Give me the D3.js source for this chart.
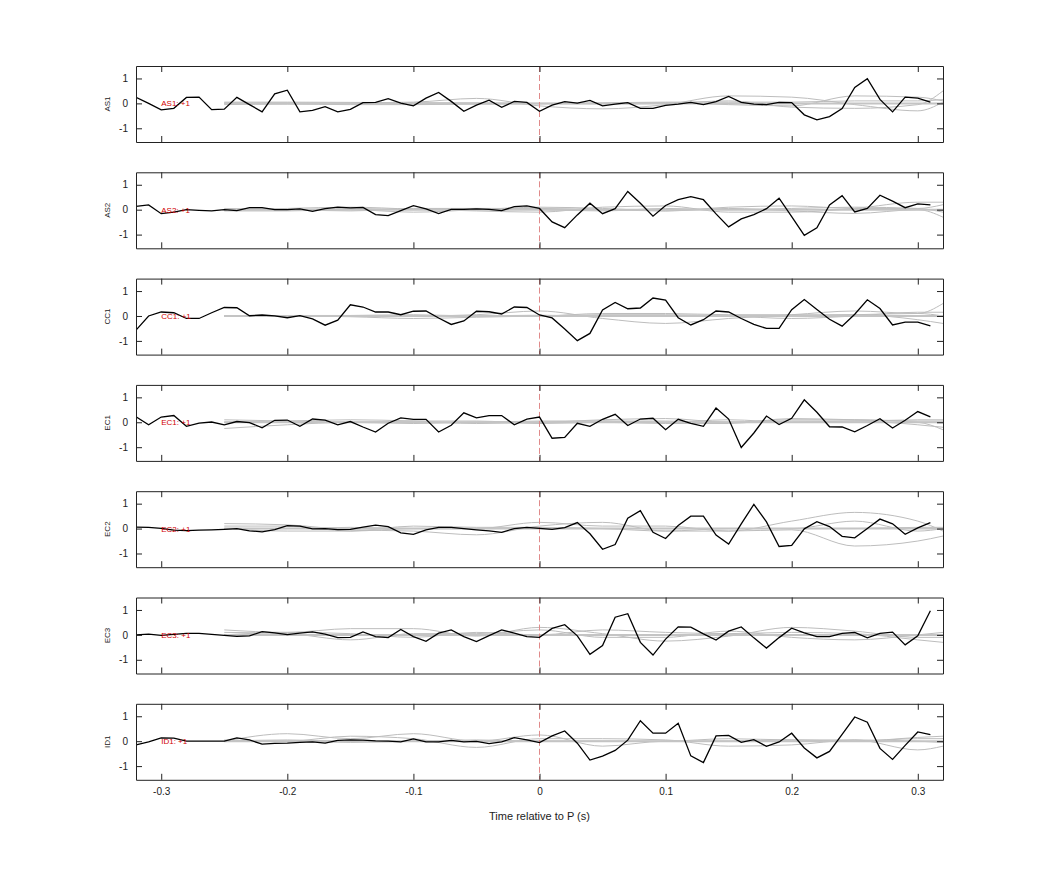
<!DOCTYPE html>
<html>
<head>
<meta charset="utf-8">
<script src="https://cdn.jsdelivr.net/npm/d3@7"></script>
<style>
  body { margin: 0; background: #fff; }
  text { font-family: "Liberation Sans", Arial, sans-serif; }
</style>
</head>
<body>
<div id="chart"></div>
<script>
// channel names, one panel each
var stations = ["AS1", "AS2", "CC1", "EC1", "EC2", "EC3", "ID1"];
var xTicks = [-0.3, -0.2, -0.1, 0, 0.1, 0.2, 0.3];
var yTicks = [-1, 0, 1];

// black traces, sampled every 0.01 s from -0.32 to 0.31
var tStart = -0.32, tStep = 0.01;
var traceAS1 = [0.24,0,-0.26,-0.2,0.24,0.25,-0.25,-0.23,0.24,-0.05,-0.34,0.38,0.53,-0.34,-0.28,-0.13,-0.34,-0.24,0.03,0.04,0.19,0.01,-0.1,0.21,0.44,0.08,-0.32,-0.07,0.13,-0.16,0.08,0.04,-0.32,-0.07,0.07,0.01,0.12,-0.1,-0.03,0.03,-0.2,-0.2,-0.08,-0.03,0.04,-0.05,0.07,0.28,0.04,-0.03,-0.05,0.04,0.03,-0.46,-0.66,-0.53,-0.21,0.64,0.99,0.16,-0.34,0.25,0.21,0.05];
var traceAS2 = [0.13,0.19,-0.16,-0.1,0,-0.03,-0.05,0,-0.04,0.08,0.08,0,0,0.03,-0.07,0.04,0.1,0.07,0.09,-0.2,-0.24,-0.04,0.16,0.03,-0.16,0.01,0.01,0.03,0.01,-0.04,0.12,0.15,0.05,-0.49,-0.72,-0.21,0.26,-0.16,0.04,0.73,0.26,-0.26,0.17,0.4,0.52,0.4,-0.17,-0.69,-0.37,-0.2,0.04,0.46,-0.28,-1.03,-0.73,0.19,0.56,-0.09,0.05,0.58,0.34,0.08,0.23,0.19];
var traceCC1 = [-0.57,0,0.16,0.13,-0.1,-0.1,0.13,0.34,0.33,0.01,0.04,0,-0.07,0.01,-0.12,-0.37,-0.17,0.45,0.36,0.16,0.16,0.05,0.19,0.2,-0.08,-0.34,-0.2,0.19,0.17,0.08,0.36,0.34,0.04,-0.08,-0.52,-0.99,-0.7,0.24,0.54,0.29,0.32,0.72,0.64,-0.07,-0.36,-0.15,0.2,0.16,-0.1,-0.34,-0.5,-0.5,0.25,0.66,0.26,-0.13,-0.41,0.07,0.65,0.3,-0.36,-0.25,-0.25,-0.4];
var traceEC1 = [0.22,-0.1,0.21,0.27,-0.16,-0.03,0.01,-0.1,0.03,-0.01,-0.22,0.08,0.09,-0.16,0.13,0.09,-0.1,0.03,-0.19,-0.39,-0.04,0.18,0.12,0.12,-0.39,-0.12,0.38,0.18,0.27,0.27,-0.1,0.13,0.21,-0.64,-0.61,-0.04,-0.16,0.12,0.32,-0.13,0.13,0.16,-0.3,0.12,-0.04,-0.16,0.57,0.13,-1.01,-0.43,0.25,-0.09,0.16,0.9,0.4,-0.18,-0.19,-0.38,-0.13,0.14,-0.23,0.08,0.43,0.22];
var traceEC2 = [0.06,0.05,0.01,-0.06,-0.08,-0.06,-0.05,-0.03,0,-0.09,-0.13,-0.04,0.12,0.1,-0.01,0,-0.04,-0.03,0.06,0.14,0.08,-0.17,-0.23,-0.05,0.05,0.05,0,-0.05,-0.09,-0.15,0,0.05,0.01,-0.03,0.04,0.24,-0.21,-0.83,-0.64,0.42,0.72,-0.15,-0.4,0.12,0.5,0.5,-0.26,-0.62,0.19,0.97,0.27,-0.72,-0.67,-0.01,0.28,0.08,-0.31,-0.37,0,0.38,0.19,-0.23,0.03,0.24];
var traceEC3 = [0,0.03,-0.02,0.02,0.06,0.06,0.02,-0.02,-0.06,-0.04,0.13,0.08,0.01,0.07,0.12,0.03,-0.11,-0.1,0.12,-0.07,-0.11,0.22,-0.07,-0.26,0.07,0.2,-0.07,-0.27,-0.03,0.2,0.07,-0.07,-0.1,0.26,0.41,-0.04,-0.78,-0.43,0.71,0.85,-0.3,-0.81,-0.17,0.32,0.31,0.04,-0.21,0.15,0.32,-0.12,-0.53,-0.11,0.27,0.08,-0.07,-0.07,0.06,0.1,-0.12,0.06,0.11,-0.4,-0.04,0.97];
var traceID1 = [-0.15,-0.03,0.13,0.12,0,0,0,0,0.13,0.05,-0.12,-0.09,-0.08,-0.05,-0.03,-0.08,0.03,0.05,0.04,0.01,0,-0.03,0.09,-0.03,-0.03,0.03,-0.03,-0.01,-0.1,-0.03,0.14,0.05,-0.06,0.21,0.41,-0.08,-0.76,-0.6,-0.37,0.04,0.82,0.32,0.32,0.72,-0.59,-0.86,0.21,0.23,-0.05,0.06,-0.21,-0.03,0.32,-0.27,-0.67,-0.41,0.27,0.97,0.76,-0.29,-0.73,-0.17,0.37,0.26];

// grey reference traces, read at coarser times
var greyT = [-0.25,-0.2,-0.15,-0.1,-0.05,0,0.05,0.1,0.15,0.2,0.25,0.3,0.32];
var greyAS1 = [
  [0.02,0.0,0.02,0.05,0.2,-0.1,-0.22,-0.05,0.3,0.25,-0.05,-0.3,0.05],
  [0.05,0.05,0.04,0.03,0.02,0,0.02,0.05,0.05,0.05,0.1,0.1,0.15],
  [-0.05,-0.03,-0.05,-0.05,-0.03,-0.02,0,0.03,-0.05,-0.1,0.3,0.25,0.1],
  [0.0,0.02,0.0,-0.02,0.0,0,-0.02,0.0,0.1,-0.15,-0.2,-0.05,0.5]
];
var greyAS2 = [
  [-0.05,-0.05,0.0,-0.1,0.0,0.1,0.05,-0.05,0.1,0.15,0.05,0.05,0.2],
  [0.0,0.05,0.1,0.02,-0.05,-0.1,0.1,0.15,-0.1,-0.1,0.05,0.3,0.3],
  [0.05,0.0,-0.05,0.05,0.05,0.0,-0.05,0.05,0.0,0.05,0.1,0.05,-0.1],
  [0.0,0.0,0.05,0.0,0.05,0.05,0.0,-0.05,0.05,-0.05,-0.15,0.0,-0.3]
];
var greyCC1 = [
  [0.0,0.02,0.02,0.0,0.05,0.2,-0.1,-0.3,-0.1,0.05,0.2,0.1,0.5],
  [0.0,0.0,-0.03,-0.1,-0.05,0.0,0.05,0.05,0.0,-0.1,0.0,0.15,0.15],
  [0.0,0.0,0.02,0.05,0.0,0.0,0.1,0.1,0.05,0.05,0.05,-0.15,-0.3],
  [0.0,0.0,0.0,-0.02,0.0,0.03,0.0,0.0,0.03,0.0,0.05,0.1,0.0]
];
var greyEC1 = [
  [-0.25,-0.1,0.0,-0.05,0.0,0.0,0.1,0.15,0.0,0.1,0.1,0.0,-0.3],
  [0.0,0.05,0.1,0.05,-0.05,0.0,0.05,0.0,0.1,0.0,0.05,-0.1,-0.2],
  [0.1,0.05,0.0,0.05,0.05,-0.05,0.0,-0.05,-0.05,0.15,0.1,0.05,0.05],
  [0.0,0.0,0.0,0.0,0.0,0.05,0.05,0.05,0.0,0.05,0.05,0.1,0.1]
];
var greyEC2 = [
  [0.2,0.15,-0.05,-0.1,-0.25,0.1,0.25,-0.1,-0.1,0.3,0.65,0.3,-0.1],
  [0.1,0.1,-0.1,0.1,0.05,0.05,0.0,-0.1,0.0,0.0,0.3,-0.1,0.0],
  [0.0,-0.1,-0.1,0.0,0.0,0.25,0.1,0.1,-0.1,-0.05,-0.7,-0.5,-0.3],
  [0.0,0.0,0.05,0.0,0.0,0.0,0.0,0.0,0.0,0.0,0.0,0.05,0.05]
];
var greyEC3 = [
  [0.2,0.1,0.25,0.25,-0.05,0.3,0.05,-0.25,-0.05,0.3,0.15,-0.1,-0.1],
  [0.1,0.05,-0.2,0.05,0.05,0.2,-0.1,-0.1,0.15,-0.1,-0.2,0.0,0.1],
  [0.0,0.1,0.05,-0.1,0.1,0.0,0.2,0.1,0.05,0.1,0.05,-0.2,-0.3],
  [0.0,0.0,0.0,0.0,0.0,0.0,0.0,0.0,0.0,0.0,0.0,0.0,0.0]
];
var greyID1 = [
  [0.0,0.3,0.1,0.3,0.0,0.25,-0.2,0.0,0.0,0.05,0.0,0.1,0.1],
  [0.05,0.0,0.2,0.1,-0.25,0.1,0.1,0.05,-0.2,-0.15,0.05,-0.35,-0.2],
  [0.0,0.0,-0.05,0.0,0.05,0.0,0.0,0.0,0.1,0.05,0.05,0.0,-0.05],
  [0.0,0.05,0.0,0.0,0.0,0.0,0.0,0.0,0.0,0.0,0.0,0.15,0.2]
];

var traces = [traceAS1, traceAS2, traceCC1, traceEC1, traceEC2, traceEC3, traceID1];
var greys = [greyAS1, greyAS2, greyCC1, greyEC1, greyEC2, greyEC3, greyID1];

var W = 1042, H = 875;
var left = 136, right = 943, top0 = 66, panelH = 76, panelStep = 106.3;

var svg = d3.select("#chart").append("svg")
    .attr("width", W).attr("height", H);

var x = d3.scaleLinear().domain([-0.32, 0.32]).range([left, right]);
var y = d3.scaleLinear().domain([-1.55, 1.5]).range([panelH, 0]);

var blackLine = d3.line()
    .x(function (d, i) { return x(tStart + i * tStep); })
    .y(function (d) { return y(d); });
var greyLine = d3.line()
    .x(function (d, i) { return x(greyT[i]); })
    .y(function (d) { return y(d); })
    .curve(d3.curveMonotoneX);

// plain hyphen minus, like the original
var numFmt = function (d) { return String(d); };

stations.forEach(function (name, p) {
    var g = svg.append("g")
        .attr("transform", "translate(0," + (top0 + p * panelStep) + ")");

    g.append("clipPath").attr("id", "clip" + p)
        .append("rect").attr("x", left).attr("y", 0)
        .attr("width", right - left).attr("height", panelH);

    var plot = g.append("g").attr("clip-path", "url(#clip" + p + ")");

    greys[p].forEach(function (s) {
        plot.append("path").datum(s)
            .attr("d", greyLine)
            .attr("fill", "none")
            .attr("stroke", "#bdbdbd")
            .attr("stroke-width", 1);
    });
    // flat grey band near zero
    plot.append("line")
        .attr("x1", x(-0.25)).attr("x2", right)
        .attr("y1", y(0)).attr("y2", y(0))
        .attr("stroke", "#c4c4c4").attr("stroke-width", 2);

    plot.append("line")
        .attr("x1", x(0)).attr("x2", x(0))
        .attr("y1", 0).attr("y2", panelH)
        .attr("stroke", "#e08a8a").attr("stroke-width", 1)
        .attr("stroke-dasharray", "6,3");

    plot.append("path").datum(traces[p])
        .attr("d", blackLine)
        .attr("fill", "none")
        .attr("stroke", "#000")
        .attr("stroke-width", 1.3);

    g.append("text")
        .attr("x", x(-0.3)).attr("y", y(0) + 3)
        .attr("font-size", 8).attr("fill", "#d00000")
        .text(name + ": +1");

    // axes, MATLAB style with inward ticks on all sides
    var showX = p === stations.length - 1;
    g.append("g").attr("transform", "translate(0," + panelH + ")")
        .call(d3.axisBottom(x).tickValues(xTicks).tickSizeInner(-6).tickSizeOuter(0)
            .tickPadding(8).tickFormat(showX ? numFmt : ""));
    g.append("g")
        .call(d3.axisTop(x).tickValues(xTicks).tickSizeInner(-6).tickSizeOuter(0).tickFormat(""));
    g.append("g").attr("transform", "translate(" + left + ",0)")
        .call(d3.axisLeft(y).tickValues(yTicks).tickSizeInner(-6).tickSizeOuter(0)
            .tickPadding(8).tickFormat(numFmt));
    g.append("g").attr("transform", "translate(" + right + ",0)")
        .call(d3.axisRight(y).tickValues(yTicks).tickSizeInner(-6).tickSizeOuter(0).tickFormat(""));
    g.selectAll(".domain").attr("stroke", "#222");
    g.selectAll(".tick line").attr("stroke", "#222");
    g.selectAll(".tick text").attr("font-size", 10).attr("fill", "#222")
        .attr("font-family", "Liberation Sans, Arial, sans-serif");

    g.append("text")
        .attr("transform", "translate(" + (left - 26) + "," + (panelH / 2) + ") rotate(-90)")
        .attr("text-anchor", "middle")
        .attr("font-size", 8).attr("fill", "#222")
        .text(name);
});

svg.append("text")
    .attr("x", (left + right) / 2).attr("y", 820)
    .attr("text-anchor", "middle")
    .attr("font-size", 11).attr("fill", "#222")
    .text("Time relative to P (s)");
</script>
</body>
</html>
